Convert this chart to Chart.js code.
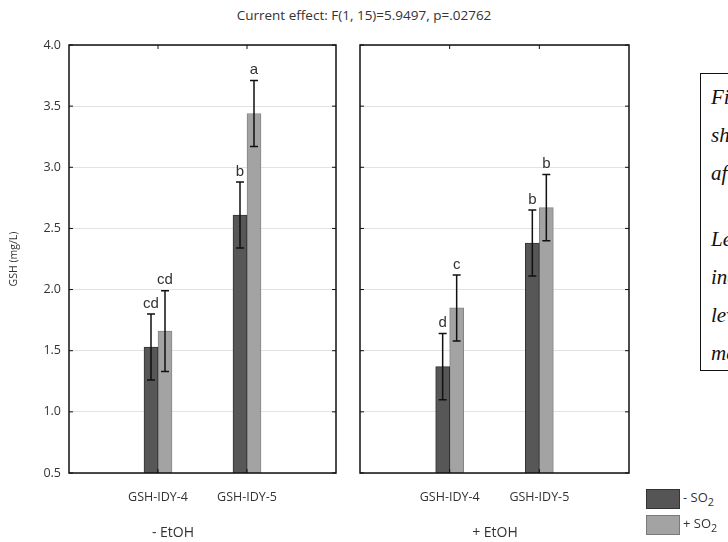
<!DOCTYPE html>
<html>
<head>
<meta charset="utf-8">
<script src="https://cdn.jsdelivr.net/npm/chart.js@4/dist/chart.umd.min.js"></script>
<style>
    body { margin: 0; width: 728px; height: 542px; overflow: hidden; background: #fff; position: relative; font-family: "Open Sans", sans-serif; color: #333; }
    canvas { position: absolute; top: 0; }
    #chartLeft { left: 0; }
    #chartRight { left: 340px; }
    .title { position: absolute; top: 6px; left: 0; width: 728px; text-align: center; font-size: 13.5px; }
    .group { position: absolute; top: 522px; font-size: 14px; width: 100px; text-align: center; }
    .legend { position: absolute; left: 646px; font-size: 13px; }
    .legend span.box { display: inline-block; width: 32px; height: 18px; vertical-align: middle; margin-right: 3px; }
    .note { position: absolute; left: 700px; top: 73px; width: 220px; height: 298px; border: 1.5px solid #111;
            font-family: "Liberation Serif", serif; font-style: italic; font-size: 21px; color: #111; padding: 4px 0 0 10px; box-sizing: border-box; line-height: 38px; }
    .note p { margin: 0 0 28px 0; }
</style>
</head>
<body>
<div class="title">Current effect: F(1, 15)=5.9497, p=.02762</div>
<canvas id="chartLeft" width="345" height="542"></canvas>
<canvas id="chartRight" width="300" height="542"></canvas>
<div class="group" style="left:123px">- EtOH</div>
<div class="group" style="left:445px">+ EtOH</div>
<div class="legend" style="top:488px"><span class="box" style="background:#555;border:1px solid #333"></span>- SO<sub>2</sub></div>
<div class="legend" style="top:514px"><span class="box" style="background:#a3a3a3;border:1px solid #7a7a7a"></span>+ SO<sub>2</sub></div>
<div class="note">
    <p>Figure<br>shown<br>after</p>
    <p>Letters<br>indicate<br>levels<br>means</p>
</div>
<script>
const categories = ['GSH-IDY-4', 'GSH-IDY-5'];
const yTicks = [0.5, 1.0, 1.5, 2.0, 2.5, 3.0, 3.5, 4.0];

// - EtOH panel
const noEtohMinusSO2 = [1.53, 2.61];
const noEtohMinusSO2Err = [0.27, 0.27];
const noEtohPlusSO2 = [1.66, 3.44];
const noEtohPlusSO2Err = [0.33, 0.27];
const noEtohMinusLetters = ['cd', 'b'];
const noEtohPlusLetters = ['cd', 'a'];

// + EtOH panel
const etohMinusSO2 = [1.37, 2.38];
const etohMinusSO2Err = [0.27, 0.27];
const etohPlusSO2 = [1.85, 2.67];
const etohPlusSO2Err = [0.27, 0.27];
const etohMinusLetters = ['d', 'b'];
const etohPlusLetters = ['c', 'b'];

const pad = arr => [null, ...arr, null];

const panelPlugin = {
    id: 'panel',
    afterDatasetsDraw(chart) {
        const ctx = chart.ctx;
        const area = chart.chartArea;
        const y = chart.scales.y;
        const x = chart.scales.x;
        ctx.save();
        // error bars + letters
        chart.data.datasets.forEach((ds, di) => {
            const meta = chart.getDatasetMeta(di);
            meta.data.forEach((bar, i) => {
                const v = ds.data[i];
                if (v == null) return;
                const e = ds.errors[i - 1];
                const top = y.getPixelForValue(v + e);
                const bot = y.getPixelForValue(v - e);
                ctx.strokeStyle = '#111';
                ctx.lineWidth = 1.5;
                ctx.beginPath();
                ctx.moveTo(bar.x, top); ctx.lineTo(bar.x, bot);
                ctx.moveTo(bar.x - 4, top); ctx.lineTo(bar.x + 4, top);
                ctx.moveTo(bar.x - 4, bot); ctx.lineTo(bar.x + 4, bot);
                ctx.stroke();
                ctx.fillStyle = '#333';
                ctx.font = '15px "Liberation Sans", Arial, sans-serif';
                ctx.textAlign = 'center';
                ctx.textBaseline = 'bottom';
                ctx.fillText(ds.letters[i - 1], bar.x, top - 3);
            });
        });
        // panel frame
        ctx.strokeStyle = '#111';
        ctx.lineWidth = 1.5;
        ctx.strokeRect(area.left, area.top, area.right - area.left, area.bottom - area.top);
        // inward ticks
        ctx.lineWidth = 1;
        ctx.beginPath();
        yTicks.forEach(t => {
            const py = y.getPixelForValue(t);
            ctx.moveTo(area.left, py); ctx.lineTo(area.left + 4, py);
            ctx.moveTo(area.right, py); ctx.lineTo(area.right - 4, py);
        });
        categories.forEach((c, i) => {
            const px = x.getPixelForValue(i + 1);
            ctx.moveTo(px, area.top); ctx.lineTo(px, area.top + 4);
            ctx.moveTo(px, area.bottom); ctx.lineTo(px, area.bottom - 4);
        });
        ctx.stroke();
        ctx.restore();
    }
};

function makePanel(id, minus, minusErr, minusLetters, plus, plusErr, plusLetters, showY) {
    const ctx = document.getElementById(id).getContext('2d');
    return new Chart(ctx, {
        type: 'bar',
        data: {
            labels: ['', ...categories, ''],
            datasets: [{
                label: '- SO2',
                data: pad(minus),
                errors: minusErr,
                letters: minusLetters,
                backgroundColor: '#575757',
                borderColor: '#333',
                borderWidth: 1
            }, {
                label: '+ SO2',
                data: pad(plus),
                errors: plusErr,
                letters: plusLetters,
                backgroundColor: '#a3a3a3',
                borderColor: '#858585',
                borderWidth: 1
            }]
        },
        options: {
            responsive: false,
            animation: false,
            devicePixelRatio: 1,
            barThickness: 14,
            layout: { padding: { left: 0, right: showY ? 7 : 11, top: 45, bottom: 39 } },
            plugins: { legend: { display: false }, tooltip: { enabled: false } },
            scales: {
                x: {
                    offset: false,
                    afterFit: s => { s.height = 30; },
                    grid: { display: false },
                    border: { display: false },
                    ticks: { autoSkip: false, maxRotation: 0, padding: 9, color: '#333', font: { family: 'Open Sans', size: 12.5 } }
                },
                y: {
                    min: 0.5,
                    max: 4.0,
                    afterFit: s => { s.width = showY ? 69 : 20; },
                    afterBuildTicks: s => { s.ticks = yTicks.map(v => ({ value: v })); },
                    grid: { color: '#e2e2e2', drawTicks: false },
                    border: { display: false },
                    ticks: {
                        display: showY,
                        padding: 8,
                        color: '#333',
                        font: { family: 'Open Sans', size: 12.5 },
                        callback: v => v.toFixed(1)
                    },
                    title: { display: showY, text: 'GSH (mg/L)', color: '#333', font: { family: 'Open Sans', size: 10.5 }, padding: 8 }
                }
            }
        },
        plugins: [panelPlugin]
    });
}

makePanel('chartLeft', noEtohMinusSO2, noEtohMinusSO2Err, noEtohMinusLetters, noEtohPlusSO2, noEtohPlusSO2Err, noEtohPlusLetters, true);
makePanel('chartRight', etohMinusSO2, etohMinusSO2Err, etohMinusLetters, etohPlusSO2, etohPlusSO2Err, etohPlusLetters, false);
</script>
</body>
</html>
